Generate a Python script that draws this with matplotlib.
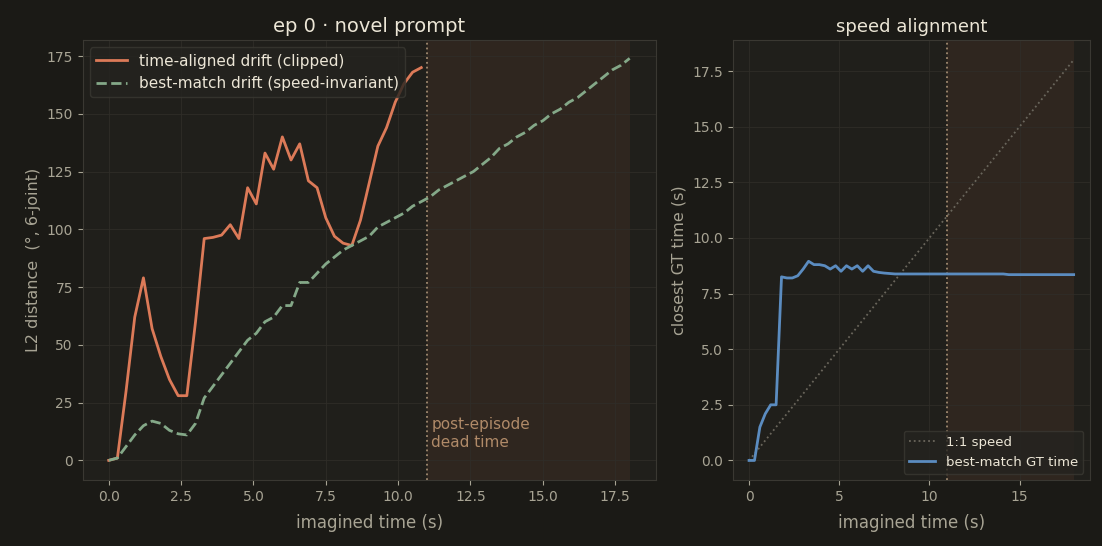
import matplotlib
matplotlib.use("Agg")
import matplotlib.pyplot as plt
import numpy as np

t_drift = [0,0.3,0.6,0.9,1.2,1.5,1.8,2.1,2.4,2.7,3.0,3.3,3.6,3.9,4.2,4.5,4.8,5.1,5.4,5.7,6.0,6.3,6.6,6.9,7.2,7.5,7.8,8.1,8.4,8.7,9.0,9.3,9.6,9.9,10.2,10.5,10.8]
time_aligned = [0,1,30,62,79,57,45,35,28,28,60,96,96.5,97.5,102,96,118,111,133,126,140,130,137,121,118,105,97,94,93,104,120,136,144,155,163,168,170]
t_best = [0,0.3,0.6,0.9,1.2,1.5,1.8,2.1,2.4,2.7,3.0,3.3,3.6,3.9,4.2,4.5,4.8,5.1,5.4,5.7,6.0,6.3,6.6,6.9,7.2,7.5,7.8,8.1,8.4,8.7,9.0,9.3,9.6,9.9,10.2,10.5,10.8,11.1,11.4,11.7,12.0,12.3,12.6,12.9,13.2,13.5,13.8,14.1,14.4,14.7,15.0,15.3,15.6,15.9,16.2,16.5,16.8,17.1,17.4,17.7,18.0]
best_match = [0,1,6,11,15,17,16,13,11.5,11,16,27,32,37,42,47,52,55,60,62,67,67,77,77,81,85,88,91,93,95,97,101,103,105,107,110,112,114,117,119,121,123,125,128,131,135,137,140,142,145,147,150,152,155,157,160,163,166,169,171,174]
gt_time = [0,0,1.5,2.1,2.5,2.5,8.25,8.2,8.2,8.3,8.6,8.95,8.8,8.8,8.75,8.6,8.75,8.5,8.75,8.6,8.75,8.5,8.75,8.5,8.45,8.42,8.4,8.38,8.38,8.38,8.38,8.38,8.38,8.38,8.38,8.38,8.38,8.38,8.38,8.38,8.38,8.38,8.38,8.38,8.38,8.38,8.38,8.38,8.35,8.35,8.35,8.35,8.35,8.35,8.35,8.35,8.35,8.35,8.35,8.35,8.35]
dead_start, dead_end = 11.0, 18.0

BG = "#1b1a16"; AX = "#201f1b"; TXT = "#a8a494"; TITLE = "#ece6d6"
plt.rcParams.update({"font.family": "DejaVu Sans"})
fig = plt.figure(figsize=(11.02, 5.46), dpi=100, facecolor=BG)
ax1 = fig.add_axes([0.075, 0.12, 0.52, 0.807])
ax2 = fig.add_axes([0.665, 0.12, 0.324, 0.807])
for ax in (ax1, ax2):
    ax.set_facecolor(AX)
    for s in ax.spines.values():
        s.set_color("#3a3832")
    ax.tick_params(colors=TXT, labelsize=10)
    ax.grid(True, color="#2f2d28", lw=0.6)
    ax.axvspan(dead_start, dead_end, color="#3a2c22", alpha=0.6, lw=0)
    ax.axvline(dead_start, color="#a08a70", ls=":", lw=1.3)

ax1.plot(t_drift, time_aligned, color="#dc7a58", lw=2, label="time-aligned drift (clipped)")
ax1.plot(t_best, best_match, color="#84a888", lw=2, ls="--", label="best-match drift (speed-invariant)")
ax1.set_xlim(-0.9, 18.9); ax1.set_ylim(-8.7, 182)
ax1.set_xticks(np.arange(0, 18, 2.5))
ax1.set_xlabel("imagined time (s)", color=TXT, fontsize=12, labelpad=7)
ax1.set_ylabel("L2 distance  (°, 6-joint)", color=TXT, fontsize=11.5)
ax1.set_title("ep 0 · novel prompt", color=TITLE, fontsize=14)
ax1.text(11.15, 6, "post-episode\ndead time", color="#b08a68", fontsize=11)
lg = ax1.legend(loc="upper left", facecolor="#24231f", edgecolor="#3a3832", fontsize=11)
for t in lg.get_texts(): t.set_color(TITLE)

ax2.plot([0, 18], [0, 18], color="#6a665c", ls=":", lw=1.3, label="1:1 speed")
ax2.plot(t_best, gt_time, color="#5b8cc0", lw=2, label="best-match GT time")
ax2.set_xlim(-0.9, 18.9); ax2.set_ylim(-0.9, 18.9)
ax2.set_xticks([0, 5, 10, 15])
ax2.set_yticks(np.arange(0, 18, 2.5))
ax2.set_xlabel("imagined time (s)", color=TXT, fontsize=12, labelpad=7)
ax2.set_ylabel("closest GT time (s)", color=TXT, fontsize=11.5)
ax2.set_title("speed alignment", color=TITLE, fontsize=13)
lg2 = ax2.legend(loc="lower right", facecolor="#24231f", edgecolor="#3a3832", fontsize=9.5)
for t in lg2.get_texts(): t.set_color(TITLE)

fig.savefig("out.png", dpi=100, facecolor=BG)
